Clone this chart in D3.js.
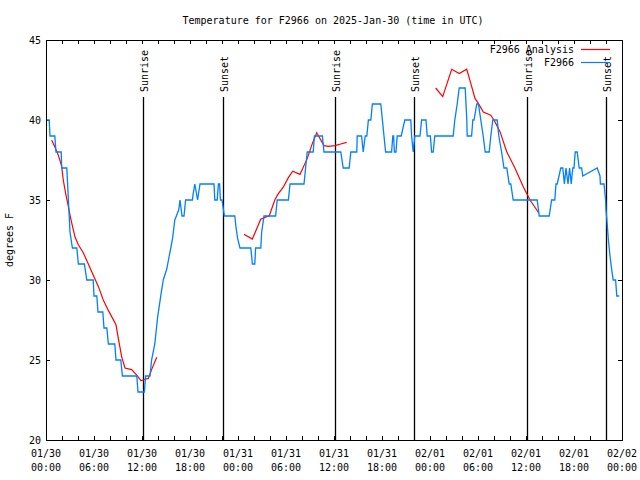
<!DOCTYPE html>
<html>
<head>
<meta charset="utf-8">
<script src="https://cdn.jsdelivr.net/npm/d3@7"></script>
<style>
  html, body { margin: 0; padding: 0; background: #fff; }
  svg { display: block; }
  text { font-family: "DejaVu Sans Mono", "Liberation Mono", monospace; font-size: 10px; fill: #000; }
</style>
</head>
<body>
<svg id="chart" width="640" height="480"></svg>
<script>
// ---------------- DATA ----------------
const title = "Temperature for F2966 on 2025-Jan-30 (time in UTC)";
const yLabel = "degrees F";
const seriesNames = ["F2966 Analysis", "F2966"];

// hours since 2025-01-30 00:00 UTC
const xTickHours = [0, 6, 12, 18, 24, 30, 36, 42, 48, 54, 60, 66, 72];
const xTickDates = ["01/30","01/30","01/30","01/30","01/31","01/31","01/31","01/31","02/01","02/01","02/01","02/01","02/02"];
const xTickTimes = ["00:00","06:00","12:00","18:00","00:00","06:00","12:00","18:00","00:00","06:00","12:00","18:00","00:00"];
const yTicks = [20, 25, 30, 35, 40, 45];

const sunHours = [12.17, 22.07, 36.15, 46.03, 60.07, 70.02];
const sunLabels = ["Sunrise", "Sunset", "Sunrise", "Sunset", "Sunrise", "Sunset"];

// observations (F2966)
const obsHours = [0.0, 0.4, 0.5, 1.1, 1.25, 1.9, 1.96, 2.6, 2.8, 3.0, 3.3, 3.85, 4.05, 4.8, 5.1, 5.9,
  6.0, 6.35, 6.5, 7.1, 7.25, 7.6, 7.8, 8.6, 8.75, 9.35, 9.55, 11.35, 11.5, 12.3, 12.45, 13.0,
  13.2, 13.6, 13.96, 14.4, 14.66, 15.1, 15.4, 15.6, 15.85, 16.1, 16.3, 16.6, 16.75, 17.0, 17.25,
  17.45, 18.3, 18.4, 18.6, 18.95, 19.25, 21.0, 21.1, 21.4, 21.55, 21.7, 21.8, 22.0, 22.3, 23.6,
  23.75, 23.95, 24.25, 25.6, 25.8, 26.1, 26.2, 26.85, 26.96, 27.25, 28.7, 28.9, 30.3, 30.5, 32.25,
  32.45, 32.65, 33.4, 33.55, 34.55, 34.75, 36.85, 37.15, 37.9, 38.1, 38.85, 38.9, 39.45, 39.65,
  39.9, 40.1, 40.3, 40.6, 40.8, 41.85, 42.05, 42.25, 42.45, 43.2, 43.35, 43.45, 43.55, 43.75,
  43.9, 44.4, 44.85, 45.6, 45.7, 45.9, 46.1, 46.75, 46.95, 47.5, 47.65, 48.05, 48.2, 48.4, 48.6,
  50.9, 51.1, 51.4, 51.65, 52.4, 52.5, 52.6, 52.65, 53.2, 53.35, 53.5, 53.85, 54.05, 54.35, 54.65,
  54.9, 55.4, 55.6, 55.85, 56.4, 56.6, 56.95, 57.25, 57.6, 57.9, 58.1, 58.4, 61.4, 61.65, 62.9,
  63.2, 63.6, 63.75, 63.9, 64.35, 64.6, 64.8, 65.0, 65.25, 65.45, 65.65, 65.85, 66.0, 66.15,
  66.4, 66.65, 66.95, 67.1, 68.9, 69.25, 69.3, 69.6, 69.75, 69.95, 70.0, 70.15, 70.3, 70.5,
  70.7, 70.9, 71.2, 71.35, 71.65];
const obsTemps = [40, 40, 39, 39, 38, 38, 37, 37, 35, 33, 32, 32, 31, 31, 30, 30,
  29, 29, 28, 28, 27, 27, 26, 26, 25, 25, 24, 24, 23, 23, 24, 24,
  25, 26, 27.7, 29.2, 30, 30.7, 31.5, 32, 32.7, 33.75, 34, 34.4, 35, 34, 34,
  35, 35, 35.4, 36, 35, 36, 36, 35, 35, 36, 36, 35, 35, 34, 34,
  33.3, 32.6, 32, 32, 31, 31, 32, 32, 33, 34, 34, 35, 35, 36, 36,
  37, 38, 38, 39, 39, 38, 38, 37, 37, 38, 38, 39, 39, 38,
  39, 39, 40, 40, 41, 41, 40, 39, 38, 38, 39, 39, 38, 38,
  39, 39, 40, 40, 39, 38, 39, 39, 40, 40, 39, 39, 38, 38, 39,
  39, 40, 41, 42, 42, 41, 40, 39, 39, 40, 40, 41, 41, 40, 39,
  38, 38, 39, 40, 40, 39, 38, 37, 37, 36, 36, 35, 35, 34, 34,
  35, 35, 36, 36, 37, 37, 36, 37, 36, 37, 36, 37, 37, 38,
  38, 37, 37, 36.5, 37, 36.5, 36, 36, 36, 35, 34.4, 33.5, 32.5, 31.5,
  30.7, 30, 30, 29, 29];

// analysis (F2966 Analysis); null separates segments
const anaHours = [0.71, 1.12, 1.54, 1.96, 2.16, 2.46, 2.79, 3.0, 3.29, 3.62, 4.04, 4.66, 5.29, 5.91,
  6.54, 7.16, 7.79, 8.75, 9.04, 9.46, 9.875, 10.7, 11.34, 11.875, 12.375, 12.79, 13.2, 13.84,
  null,
  24.75, 25.79, 26.34, 26.84, 27.59, 27.9, 28.6, 29.04, 29.66, 30.29, 30.84, 31.75, 32.66, 33.34,
  33.84, 34.75, 35.29, 36.125, 36.84, 37.59,
  null,
  48.71, 49.59, 50.71, 51.66, 52.59, 53.09, 53.625, 54.04, 54.66, 55.59, 56.0, 56.75, 57.59,
  58.625, 59.66, 60.5, 61.625];
const anaTemps = [38.75, 38.3, 37.8, 37.1, 36.25, 35.4, 34.6, 34.06, 33.4, 32.7, 32.2, 31.7, 31.0, 30.3,
  29.6, 28.75, 28.1, 27.2, 26.35, 25.2, 24.5, 24.4, 24.06, 23.7, 23.8, 23.85, 24.4, 25.17,
  null,
  32.86, 32.56, 33.2, 33.8, 33.96, 34.0, 35.0, 35.4, 35.8, 36.4, 36.8, 36.6, 37.6, 38.6,
  39.2, 38.4, 38.35, 38.4, 38.5, 38.6,
  null,
  42.0, 41.46, 43.17, 42.9, 43.17, 42.3, 41.35, 41.04, 40.5, 40.3, 40.0, 39.27, 38.02,
  36.98, 35.83, 35.0, 34.17];

// ---------------- CHART ----------------
const svg = d3.select("#chart");
const L = 46, R = 622, T = 40, B = 440;
const x = d3.scaleLinear().domain([0, 72]).range([L, R]);
const y = d3.scaleLinear().domain([20, 45]).range([B, T]);

const obs = obsHours.map((h, i) => ({h, v: obsTemps[i]}));
const ana = anaHours.map((h, i) => ({h, v: anaTemps[i]}));

// title
svg.append("text").attr("x", 333).attr("y", 24).attr("text-anchor", "middle").text(title);

// y label
svg.append("text").attr("transform", "translate(13,240) rotate(-90)")
  .attr("text-anchor", "middle").text(yLabel);

// minor/major x ticks every 2h
const allX = d3.range(0, 73, 2);
const ax = svg.append("g").attr("transform", `translate(0,${B})`)
  .call(d3.axisBottom(x).tickValues(allX).tickSize(-4).tickFormat(""));
const axTop = svg.append("g").attr("transform", `translate(0,${T})`)
  .call(d3.axisTop(x).tickValues(allX).tickSize(-4).tickFormat(""));
const ay = svg.append("g").attr("transform", `translate(${L},0)`)
  .call(d3.axisLeft(y).tickValues(yTicks).tickSize(-4).tickFormat(""));
const ayR = svg.append("g").attr("transform", `translate(${R},0)`)
  .call(d3.axisRight(y).tickValues(yTicks).tickSize(-4).tickFormat(""));
[ax, axTop, ay, ayR].forEach(g => {
  g.select(".domain").remove();
  g.selectAll("line").attr("stroke", "#000").attr("shape-rendering", "crispEdges");
});

// x labels
xTickHours.forEach((h, i) => {
  const t = svg.append("text").attr("x", x(h)).attr("text-anchor", "middle");
  t.append("tspan").attr("x", x(h)).attr("y", 457).text(xTickDates[i]);
  t.append("tspan").attr("x", x(h)).attr("y", 471).text(xTickTimes[i]);
});
// y labels
yTicks.forEach(v => {
  svg.append("text").attr("x", 41).attr("y", y(v) + 4).attr("text-anchor", "end").text(v);
});

// sunrise / sunset lines
sunHours.forEach((h, i) => {
  svg.append("line").attr("x1", Math.round(x(h)) + 0.5).attr("x2", Math.round(x(h)) + 0.5)
    .attr("y1", 97).attr("y2", B).attr("stroke", "#000").attr("stroke-width", 1.3);
  svg.append("text")
    .attr("transform", `translate(${x(h) + 5},92) rotate(-90)`)
    .attr("text-anchor", "start").text(sunLabels[i]);
});

// data lines
const line = d3.line().defined(d => d.h !== null && d.v !== null)
  .x(d => x(d.h)).y(d => y(d.v));

svg.append("path").datum(ana).attr("d", line).attr("fill", "none")
  .attr("stroke", "#ff0000").attr("stroke-width", 1.2);
svg.append("path").datum(obs).attr("d", line).attr("fill", "none")
  .attr("stroke", "#0080ff").attr("stroke-width", 1.3);

// frame
svg.append("rect").attr("x", L + 0.5).attr("y", T + 0.5).attr("width", R - L).attr("height", B - T)
  .attr("fill", "none").attr("stroke", "#000").attr("shape-rendering", "crispEdges");

// legend
const legColors = ["#ff0000", "#0080ff"];
seriesNames.forEach((n, i) => {
  const ly = 49 + i * 13;
  svg.append("text").attr("x", 574).attr("y", ly + 4).attr("text-anchor", "end").text(n);
  svg.append("line").attr("x1", 581).attr("x2", 610).attr("y1", ly + 0.5).attr("y2", ly + 0.5)
    .attr("stroke", legColors[i]).attr("stroke-width", 1.2);
});
</script>
</body>
</html>
